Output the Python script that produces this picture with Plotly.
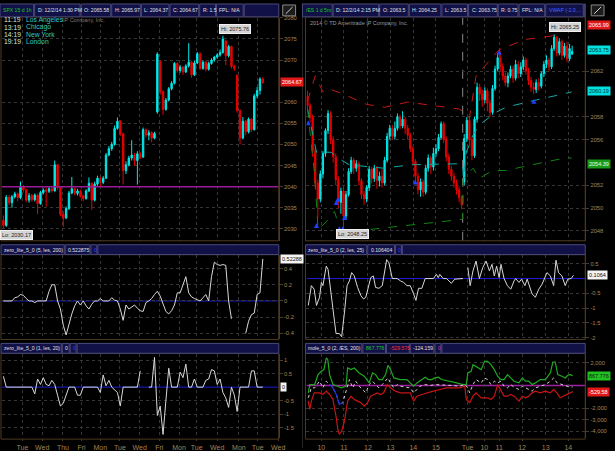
import plotly.graph_objects as go

W, H = 615, 451
def PX(x): return x / W
def PY(y): return 1 - y / H

FS = "Liberation Sans, Arial, sans-serif"
TAN = "#a08458"
BROWN = "#4e3a22"
GRID = "#363636"
CYAN = "#00e8e8"
RED = "#e80000"
NAVY = "#111148"
CELLB = "#4a4a7a"

# ---------------- LEFT: SPX 15 d 1h ----------------
spx_o = [2032.0,2030.8,2037.5,2036.2,2037.6,2038.3,2037.4,2039.9,2039.2,2036.8,2037.9,2036.9,2038.0,2036.0,2038.6,2039.2,2038.9,2039.5,2039.0,2045.2,
         2039.8,2033.5,2032.6,2034.8,2038.5,2039.5,2038.4,2039.0,2037.8,2037.2,2039.0,2040.8,2036.8,2040.6,2042.0,2041.0,2042.0,2047.5,2049.0,2050.0,
         2053.8,2055.5,2052.5,2043.8,2045.2,2046.8,2047.5,2046.2,2047.8,2047.0,2053.5,2052.2,2052.8,2051.5,2057.7,2069.6,2062.5,2058.3,2060.5,2063.2,
         2064.5,2069.2,2067.5,2068.3,2067.2,2068.6,2069.5,2066.5,2069.3,2071.5,2068.0,2069.5,2067.8,2069.2,2070.0,2070.7,2071.2,2071.8,2074.5,2071.0,
         2073.2,2068.5,2066.4,2058.0,2051.5,2055.5,2053.0,2056.0,2053.5,2061.5,2062.8,2065.5]
spx_c = [2030.8,2037.5,2036.2,2037.6,2038.3,2037.4,2039.9,2039.2,2036.8,2037.9,2036.9,2038.0,2036.0,2038.6,2039.2,2038.9,2039.5,2039.0,2045.2,2039.8,
         2033.5,2032.6,2034.8,2038.5,2039.5,2038.4,2039.0,2037.8,2037.2,2039.0,2040.8,2036.8,2040.6,2042.0,2041.0,2042.0,2047.5,2049.0,2050.0,2053.8,
         2055.5,2052.5,2043.8,2045.2,2046.8,2047.5,2046.2,2047.8,2047.0,2053.5,2052.2,2052.8,2051.5,2052.6,2071.4,2062.5,2058.3,2060.5,2063.2,2064.5,
         2069.2,2067.5,2068.3,2067.2,2068.6,2069.5,2066.5,2069.3,2071.5,2068.0,2069.5,2067.8,2069.2,2070.0,2070.7,2071.2,2071.8,2075.0,2071.0,2073.2,
         2068.5,2068.0,2058.0,2051.5,2055.5,2053.0,2056.0,2053.5,2061.5,2062.8,2065.5,2064.67]
spx_h = [2033.2,2038.0,2038.0,2038.0,2038.8,2038.6,2041.2,2040.4,2039.5,2038.5,2038.3,2038.4,2038.3,2039.0,2039.6,2039.8,2040.0,2039.9,2046.2,2045.4,
         2040.0,2034.2,2035.3,2039.0,2042.3,2039.8,2039.5,2039.3,2038.2,2039.4,2042.2,2041.0,2041.2,2042.6,2042.4,2042.5,2048.0,2049.6,2050.6,2054.5,
         2056.4,2055.8,2052.8,2046.0,2047.3,2051.0,2048.0,2048.4,2048.2,2054.0,2053.8,2053.4,2053.1,2053.0,2071.8,2070.0,2062.8,2061.0,2063.6,2065.0,
         2069.5,2069.5,2068.8,2068.6,2069.0,2074.0,2069.8,2069.8,2071.9,2071.8,2069.9,2069.8,2069.6,2070.4,2071.0,2071.6,2072.5,2075.76,2074.8,2073.6,
         2073.4,2068.9,2066.6,2058.3,2056.5,2055.8,2056.4,2056.2,2062.0,2063.6,2065.9,2065.97]
spx_l = [2030.17,2030.5,2035.6,2035.0,2037.2,2036.5,2037.0,2038.6,2036.3,2036.2,2036.4,2036.5,2033.5,2035.7,2038.2,2035.3,2038.5,2038.6,2038.8,2039.3,
         2033.0,2030.5,2032.3,2034.5,2038.2,2038.0,2037.9,2037.4,2036.6,2036.9,2038.7,2034.5,2036.5,2040.2,2040.0,2040.6,2041.8,2047.2,2048.5,2049.7,
         2053.5,2052.0,2040.5,2043.0,2044.8,2046.2,2045.0,2040.5,2046.5,2046.8,2051.6,2051.0,2050.5,2051.2,2057.3,2061.8,2057.0,2058.0,2060.2,2062.8,
         2064.2,2067.0,2067.0,2066.5,2066.9,2068.2,2065.8,2066.2,2069.0,2067.6,2067.7,2067.3,2067.5,2068.9,2069.6,2070.3,2070.8,2071.5,2068.8,2070.6,
         2068.0,2067.4,2057.5,2050.0,2051.2,2052.2,2052.6,2053.0,2053.3,2061.0,2061.8,2064.37]

spx_mid = [0,0,0,0,0.04,0.05,0.08,0.07,0.03,0,0,-0.02,0,0,0,0,0.12,0.2,0.2,0,
           -0.1,-0.3,-0.42,-0.27,-0.16,-0.06,0,-0.05,0,-0.06,-0.1,-0.04,0,0,0.03,0,0,0,0.04,0.01,
           0,-0.1,-0.24,-0.05,-0.1,-0.07,-0.05,-0.09,-0.12,-0.13,-0.02,0,0.03,0.08,0.12,0.06,-0.05,-0.13,-0.16,-0.12,
           -0.05,0.1,0.1,0.2,0.3,0.1,0.05,0.03,0.01,0,0.04,0.08,0,0.3,0.48,0.45,0.44,0.45,0.44,0,
           -0.22,None,None,None,None,-0.4,-0.25,-0.17,-0.15,0.08,0.1,0.52]
spx_low = [0.4,0,0,0,0,0,0,0,0,0,0,-0.25,0.3,0.1,0.35,0.1,0.05,0.25,0.1,-0.3,
           -0.7,-0.6,-0.3,0,0,0,-0.3,-0.3,0,0,0,0,0,0,-0.2,0.45,0.05,0.25,0,-0.1,
           -0.2,-0.7,0,0,0,0,0,0,0.6,None,None,0,0,1.1,-1.05,-0.7,-1.75,-0.5,0.7,0,
           0,0,0.55,0.35,0.85,0,0,0.3,0,0,0,0.25,0.3,0.65,0.6,0.1,0.3,-0.2,-0.4,-0.75,
           0,-0.3,-0.9,0,0,0,0,0.6,0.6,0,0,0]
spx_level = 2040.0
left_tickvals = [6.7,13.6,20.9,27.4,34,40.9,47.8,54.7,61.6,67.8,75,82.6,89.2,96.4]
left_ticktext = ["Tue","Wed","Thu","Fri","Mon","Tue","Wed","Fri","Mon","Tue","Wed","Mon","Tue","Wed"]

# ---------------- RIGHT: /ES 1 d 5m ----------------
es_o = [2059.8,2059.0,2058.0,2055.0,2052.2,2050.8,2053.0,2054.8,2056.8,2058.3,2056.0,2054.5,2052.5,2050.5,2051.5,2049.3,2051.2,2053.2,2054.2,2053.5,
        2053.9,2052.4,2051.2,2050.8,2051.8,2053.4,2052.6,2053.5,2052.4,2052.8,2052.2,2054.2,2056.3,2057.0,2056.3,2057.0,2058.0,2057.2,2057.8,2057.0,
        2056.4,2055.2,2054.1,2052.8,2051.6,2052.3,2051.4,2053.5,2054.4,2053.6,2054.8,2055.2,2056.2,2057.4,2056.0,2054.5,2053.4,2052.8,2052.2,2051.6,
        2050.9,2052.3,2056.1,2057.7,2056.0,2054.6,2057.8,2060.6,2060.0,2059.5,2060.3,2059.2,2058.4,2060.5,2062.2,2063.2,2062.4,2061.6,2061.0,2061.6,
        2062.2,2061.4,2062.6,2061.8,2062.4,2063.0,2062.0,2061.2,2060.6,2060.4,2061.0,2060.7,2061.8,2062.6,2063.0,2062.4,2064.0,2065.0,2063.6,2064.6,
        2063.4,2064.2,2063.1,2063.5]
es_c = [2059.0,2058.0,2055.0,2052.2,2050.8,2053.0,2054.8,2056.8,2058.3,2056.0,2054.5,2052.5,2050.5,2051.5,2049.3,2051.2,2053.2,2054.2,2053.5,2053.9,
        2052.4,2051.2,2050.8,2051.8,2053.4,2052.6,2053.5,2052.4,2052.8,2052.2,2054.2,2056.3,2057.0,2056.3,2057.0,2058.0,2057.2,2057.8,2057.0,2056.4,
        2055.2,2054.1,2052.8,2051.6,2052.3,2051.4,2053.5,2054.4,2053.6,2054.8,2055.2,2056.2,2057.4,2056.0,2054.5,2053.4,2052.8,2052.2,2051.6,2050.9,
        2050.3,2056.1,2057.7,2056.0,2054.6,2057.8,2060.6,2060.0,2059.5,2060.3,2059.2,2058.4,2060.5,2062.2,2063.2,2062.4,2061.6,2061.0,2061.6,2062.2,
        2061.4,2062.6,2061.8,2062.4,2063.0,2062.0,2061.2,2060.6,2060.4,2061.0,2060.7,2061.8,2062.6,2063.0,2062.4,2064.0,2065.0,2063.6,2064.6,2063.4,
        2064.2,2063.1,2064.0,2063.75]
es_h = [2060.3,2059.2,2058.2,2055.3,2052.5,2053.3,2055.0,2057.0,2058.6,2058.5,2056.3,2054.8,2052.8,2051.8,2051.8,2051.5,2053.5,2054.5,2054.4,2054.2,
        2054.1,2052.6,2051.5,2052.0,2053.7,2053.6,2053.8,2053.7,2053.2,2053.4,2054.5,2056.6,2057.3,2057.3,2057.6,2058.3,2058.2,2058.5,2058.0,2057.3,
        2056.6,2055.4,2054.3,2053.1,2052.6,2052.5,2053.8,2054.7,2054.6,2055.3,2055.6,2056.5,2057.6,2057.6,2056.3,2054.8,2053.7,2053.1,2052.5,2051.9,
        2051.1,2056.5,2058.0,2058.0,2056.3,2058.0,2061.0,2060.9,2060.4,2060.6,2060.5,2059.5,2060.8,2062.5,2063.6,2063.8,2062.7,2061.9,2061.9,2062.5,
        2062.5,2063.0,2062.9,2062.8,2063.3,2063.2,2062.3,2061.5,2061.0,2061.3,2061.4,2062.0,2062.9,2063.4,2063.2,2064.3,2065.25,2065.1,2064.9,2064.8,
        2064.5,2064.6,2064.4,2064.25]
es_l = [2058.6,2057.5,2054.5,2051.8,2049.1,2050.5,2052.6,2054.5,2056.5,2055.6,2054.0,2052.0,2050.0,2049.5,2048.25,2049.0,2051.0,2053.0,2053.0,2053.2,
        2052.0,2050.8,2050.3,2050.5,2051.5,2052.2,2052.3,2051.7,2051.9,2051.8,2052.0,2054.0,2056.0,2056.0,2056.0,2056.8,2056.9,2057.0,2056.5,2056.0,
        2054.9,2053.8,2052.4,2051.2,2051.0,2051.0,2051.2,2053.2,2053.0,2053.3,2054.5,2055.0,2056.0,2055.7,2054.1,2053.0,2052.4,2051.8,2051.2,2050.5,
        2049.9,2052.0,2055.8,2055.4,2054.2,2054.4,2057.5,2059.4,2058.9,2059.2,2058.5,2058.0,2058.2,2060.3,2062.0,2062.0,2061.2,2060.7,2060.6,2061.4,
        2061.0,2061.2,2061.4,2061.5,2062.1,2061.7,2060.8,2060.2,2060.0,2060.1,2060.3,2060.5,2061.5,2062.3,2062.0,2062.2,2063.8,2063.3,2063.4,2063.0,
        2063.2,2062.8,2062.9,2063.5]

vwap_up_x = [0,3,6,8,14,23,30,39,49,59,60.5,61.2,63,65.6,74.6,84.8,94.9,99,103]
vwap_up_y = [2059.4,2061.6,2060.2,2060.5,2060.0,2059.1,2058.85,2059.3,2059.0,2058.7,2058.5,2058.3,2057.9,2061.6,2063.9,2064.8,2065.1,2065.6,2065.99]
vwap_x = [0,3.5,9.2,11.8,16.3,29.7,40,59.2,60.4,60.6,61.8,64.4,66.9,73.3,77.2,87.4,96.4,102.8]
vwap_y = [2058.7,2054.9,2054.9,2054.4,2053.8,2053.5,2053.8,2053.9,2053.9,2052.6,2054.9,2056.4,2057.3,2058.4,2058.85,2059.4,2059.9,2060.19]
vwap_dn_x = [0,2.8,4.1,7.3,10.5,13.1,23.3,36.2,49,59.9,60.4,60.6,64.4,66.9,72,77.2,87.4,100.3,102.8]
vwap_dn_y = [2058.7,2052.9,2048.1,2048.8,2049.7,2047.8,2048.1,2048.4,2048.7,2049.0,2049.1,2052.6,2053.5,2052.6,2053.3,2053.3,2053.8,2054.4,2054.39]
sig_x = [0.3,3.5,11.2,11.8,12.4,13.7,14.4,41.9,74.6,88.1]
sig_y = [2057.7,2048.7,2050.7,2051.0,2048.4,2048.4,2049.4,2052.5,2063.9,2059.6]

zl_r_x = [0.3,1.5,2.6,3.5,4.7,5.4,6.0,7.3,8.0,9.2,10.5,11.1,12.4,13.3,14.4,15.4,16.3,17.2,18.2,19.5,20.8,21.8,22.7,24.0,24.6,25.6,26.5,27.8,29.1,30.8,
          31.7,33.0,34.9,36.2,37.4,38.7,40.0,41.3,42.2,43.2,44.5,45.8,49.0,50.2,50.9,51.5,52.8,54.1,56.0,57.3,60.5,61.5,
          62.4,63.3,64.4,65.6,66.9,68.2,69.5,70.8,71.8,72.7,73.6,74.6,75.3,76.5,77.8,79.1,80.4,81.0,82.3,83.3,84.6,85.5,87.4,88.7,90.0,91.3,93.2,94.5,
          95.8,96.7,97.7,99.0,100.3,101.3,102.6,103.5]
zl_r_y = [-0.91,-0.24,-0.36,-0.91,-0.63,-0.13,-0.24,0.42,0.31,-0.47,-1.47,-1.86,-1.86,-1.97,-1.13,-0.24,-0.08,0.2,0.09,-0.3,-0.58,-0.69,-0.63,-0.24,0.03,0.09,-0.3,-0.33,-0.24,0.64,
          0.53,0,0,-0.08,-0.13,-0.24,-0.24,-0.52,-0.74,-0.33,-0.33,0,0,0.14,0.03,0.14,0,0,-0.16,-0.02,0,None,
          0.37,-0.24,0.26,0.59,0,0.37,0.59,0.26,0.48,0.09,0.42,0.03,0.48,0,-0.24,-0.36,-0.08,0,-0.13,-0.02,-0.24,-0.02,-0.52,-0.63,-0.36,-0.19,0.2,0.09,
          -0.24,0.62,0.2,0.09,-0.24,-0.02,0,0.11]

mole_g_x = [0.3,0.9,2.8,4.1,5.4,6.4,7.3,7.9,8.6,9.9,11.8,13.1,15.0,15.6,16.9,18.2,20.1,22.1,24.0,25.3,26.5,27.8,29.1,30.4,31.3,32.3,33.6,36.2,38.7,40.0,
            41.3,42.6,44.5,45.8,47.1,48.3,49.6,50.9,52.2,54.1,56.0,58.0,60.5,61.8,62.4,63.7,64.4,65.6,67.6,68.9,70.1,71.4,72.7,74.0,75.3,76.5,77.8,79.1,80.4,82.3,
            83.6,84.9,86.1,87.4,88.7,90.6,92.6,94.5,95.5,96.4,97.4,99.0,100.3,101.3,102.2,103.2]
mole_g_y = [-638,87,87,957,1246,1391,2406,2261,957,87,-58,-203,-58,1536,1391,1536,1101,812,232,1101,957,522,522,957,1768,1391,667,522,522,232,
            -58,232,522,725,522,522,667,725,522,435,377,232,87,87,1101,1246,1826,1681,1391,2116,2116,1826,1391,812,522,522,957,667,377,232,
            667,377,377,87,232,522,522,1101,2058,2058,957,812,667,899,957,868]
mole_r_x = [0.3,0.9,1.5,2.6,3.5,4.7,6.0,7.3,8.6,9.9,11.2,11.8,12.4,13.3,14.4,15.6,16.9,18.2,19.5,20.8,22.1,23.3,24.6,25.9,27.2,28.5,29.7,31.0,32.3,34.2,
            36.2,38.1,40.0,41.3,42.6,44.5,46.4,49.0,51.5,54.1,56.7,59.2,61.2,61.8,63.1,64.4,65.6,67.6,68.9,70.1,71.4,72.7,74.0,75.3,76.5,77.8,79.1,80.4,81.7,82.3,
            83.6,84.9,86.1,87.4,88.7,90.6,92.6,94.5,95.8,97.1,98.3,99.6,100.9,102.2,103.2]
mole_r_y = [-1362,-2087,-1362,-638,-638,-638,-783,-493,-783,-1217,-2812,-3826,-4261,-3971,-3101,-1362,-928,-1217,-1362,-1507,-1797,-1507,-928,-783,-638,-783,-638,87,-203,-493,
            -638,-638,-638,-1362,-928,-783,-638,-493,-348,-203,-203,-203,-58,-1217,-1507,-928,-638,-1072,-1072,-1072,-1217,-928,87,-493,-928,-928,-783,-928,-1217,-1362,
            -928,-1072,-928,-638,-493,-638,-493,-638,-348,-638,-1072,-928,-783,-638,-530]
mole_w_x = [0.3,1.5,2.8,4.7,6.0,7.3,8.6,9.9,11.2,12.4,13.7,15.0,16.3,17.6,18.8,20.1,21.4,22.7,24.0,25.3,26.5,27.8,29.1,30.4,31.3,32.3,33.6,34.9,36.2,38.1,
            40.0,41.3,42.6,43.8,45.8,47.7,49.6,51.5,54.1,56.7,59.2,61.2,62.4,63.1,64.4,65.6,67.6,68.9,70.1,71.4,72.7,74.0,75.3,76.5,77.8,79.1,80.4,82.3,83.6,84.9,
            86.1,87.4,88.7,90.6,92.6,94.5,95.8,97.1,99.0,100.9,102.2,103.2]
mole_w_y = [-1072,-203,-203,377,-203,377,87,-203,-783,-1652,-1507,-493,522,-203,377,-58,-348,-638,87,377,87,-203,87,377,667,232,-203,87,-58,-145,
            -203,-638,-348,-58,87,0,87,87,29,0,-58,87,-203,-638,87,522,232,667,522,87,377,232,377,-58,-203,87,-145,-348,-58,-203,
            -348,-493,-203,-58,87,377,667,232,87,-58,-145,-124]
mole_b_x = [8.6,9.9,11.2,12.4,13.7]
mole_b_y = [87,-203,-783,-1652,-1507]
right_tickvals = [5.4,14.2,23.5,32.3,41.2,50,62.3,68.8,74.6,83.5,92.7,101.5]
right_ticktext = ["10","11","12","13","14","15","Tue","10","11","12","13","14"]
session_break = 60.4

# ---------------- figure ----------------
fig = go.Figure()
cs = dict(increasing=dict(line=dict(color=CYAN, width=1), fillcolor=CYAN),
          decreasing=dict(line=dict(color=RED, width=1), fillcolor=RED),
          whiskerwidth=0, showlegend=False, hoverinfo="skip")
fig.add_trace(go.Candlestick(x=list(range(len(spx_c))), open=spx_o, high=spx_h, low=spx_l, close=spx_c,
                             xaxis="x", yaxis="y", **cs))
fig.add_trace(go.Candlestick(x=list(range(len(es_c))), open=es_o, high=es_h, low=es_l, close=es_c,
                             xaxis="x2", yaxis="y2", **cs))
fig.add_trace(go.Scatter(x=vwap_up_x, y=vwap_up_y, mode="lines", line=dict(color="#c41818", width=1, dash="dash"),
                         xaxis="x2", yaxis="y2", showlegend=False, hoverinfo="skip"))
fig.add_trace(go.Scatter(x=vwap_x, y=vwap_y, mode="lines", line=dict(color="#12a8a8", width=1, dash="dash"),
                         xaxis="x2", yaxis="y2", showlegend=False, hoverinfo="skip"))
fig.add_trace(go.Scatter(x=vwap_dn_x, y=vwap_dn_y, mode="lines", line=dict(color="#128212", width=1, dash="dash"),
                         xaxis="x2", yaxis="y2", showlegend=False, hoverinfo="skip"))
fig.add_trace(go.Scatter(x=sig_x, y=sig_y, mode="markers", marker=dict(symbol="arrow-up", size=5, color="#2040ff"),
                         xaxis="x2", yaxis="y2", showlegend=False, hoverinfo="skip"))

fig.add_trace(go.Scatter(x=list(range(len(spx_mid))), y=spx_mid, mode="lines", line=dict(color="#d8d8d8", width=1),
                         xaxis="x3", yaxis="y3", showlegend=False, hoverinfo="skip"))
fig.add_trace(go.Scatter(x=list(range(len(spx_low))), y=spx_low, mode="lines", line=dict(color="#d8d8d8", width=1),
                         xaxis="x5", yaxis="y5", showlegend=False, hoverinfo="skip"))
fig.add_trace(go.Scatter(x=zl_r_x, y=zl_r_y, mode="lines", line=dict(color="#d8d8d8", width=1),
                         xaxis="x4", yaxis="y4", showlegend=False, hoverinfo="skip"))
fig.add_trace(go.Scatter(x=mole_g_x, y=mole_g_y, mode="lines", line=dict(color="#1fa81f", width=1.2),
                         xaxis="x6", yaxis="y6", showlegend=False, hoverinfo="skip"))
fig.add_trace(go.Scatter(x=mole_r_x, y=mole_r_y, mode="lines", line=dict(color="#c81414", width=1.2),
                         xaxis="x6", yaxis="y6", showlegend=False, hoverinfo="skip"))
fig.add_trace(go.Scatter(x=mole_w_x, y=mole_w_y, mode="lines", line=dict(color="#d0d0d0", width=1, dash="dot"),
                         xaxis="x6", yaxis="y6", showlegend=False, hoverinfo="skip"))
fig.add_trace(go.Scatter(x=mole_b_x, y=mole_b_y, mode="lines", line=dict(color="#2030e0", width=1.2),
                         xaxis="x6", yaxis="y6", showlegend=False, hoverinfo="skip"))

# ---------------- axes ----------------
LX = [PX(2), PX(282)]
RX = [PX(310), PX(592)]
TOP = [PY(241), PY(15)]
MID = [PY(341), PY(255)]
BOT = [PY(441), PY(356)]

def xax(domain, anchor, rng, tv, tt, labels):
    return dict(domain=domain, anchor=anchor, range=rng, tickvals=tv, ticktext=tt,
                showticklabels=labels, showgrid=True, gridcolor=GRID, griddash="dot", gridwidth=1,
                zeroline=False, showline=False, ticks="outside" if labels else "", ticklen=2, tickcolor=BROWN,
                tickfont=dict(family=FS, size=7, color=TAN), rangeslider=dict(visible=False), fixedrange=True)

def yax(domain, anchor, rng, tv, tt=None):
    d = dict(domain=domain, anchor=anchor, range=rng, side="right", tickvals=tv,
             showgrid=True, gridcolor=GRID, griddash="dot", gridwidth=1, zeroline=False,
             showline=True, linecolor=BROWN, linewidth=1, ticks="outside", ticklen=3, tickcolor=BROWN,
             tickfont=dict(family=FS, size=5.8, color=TAN), fixedrange=True)
    if tt is not None:
        d["ticktext"] = tt
    return d

lr = [-0.5, 96.6]
rr = [-0.4, 108.1]
fig.update_layout(
    xaxis=xax(LX, "y", lr, left_tickvals, left_ticktext, False),
    xaxis3=xax(LX, "y3", lr, left_tickvals, left_ticktext, False),
    xaxis5=xax(LX, "y5", lr, left_tickvals, left_ticktext, True),
    xaxis2=xax(RX, "y2", rr, right_tickvals, right_ticktext, False),
    xaxis4=xax(RX, "y4", rr, right_tickvals, right_ticktext, False),
    xaxis6=xax(RX, "y6", rr, right_tickvals, right_ticktext, True),
    yaxis=yax(TOP, "x", [2027.18, 2080.0], [2030, 2035, 2040, 2045, 2050, 2055, 2060, 2070, 2075, 2080]),
    yaxis3=yax(MID, "x3", [-0.476, 0.573], [-0.4, -0.2, 0, 0.2, 0.4], ["-0.4", "-0.2", "0", "0.2", "0.4"]),
    yaxis5=yax(BOT, "x5", [-1.887, 1.215], [-1.5, -1, -0.5, 0.5, 1], ["-1.5", "-1", "-0.5", "0.5", "1"]),
    yaxis2=yax(TOP, "x2", [2047.13, 2066.70], [2048, 2050, 2052, 2056, 2058, 2062]),
    yaxis4=yax(MID, "x4", [-2.06, 0.81], [-2, -1.5, -1, -0.5, 0.5], ["-2", "-1.5", "-1", "-0.5", "0.5"]),
    yaxis6=yax(BOT, "x6", [-4595, 2733], [-4000, -3000, -2000, 2000], ["-4,000", "-3,000", "-2,000", "2,000"]),
)

shapes = []
annots = []

def rect(x0, y0, x1, y1, fill=None, line=None, lw=1):
    shapes.append(dict(type="rect", xref="paper", yref="paper", x0=PX(x0), x1=PX(x1), y0=PY(y1), y1=PY(y0),
                       fillcolor=fill if fill else "rgba(0,0,0,0)",
                       line=dict(color=line if line else "rgba(0,0,0,0)", width=lw), layer="above"))

def txt(x, y, s, color="#e8e8e8", size=5.5, family=FS, xanchor="left", bg=None, border=None, pad=1):
    a = dict(xref="paper", yref="paper", x=PX(x), y=PY(y), text=s, showarrow=False, xanchor=xanchor,
             yanchor="middle", font=dict(family=family, size=size, color=color), borderpad=pad)
    if bg:
        a["bgcolor"] = bg
    if border:
        a["bordercolor"] = border
        a["borderwidth"] = 1
    annots.append(a)

shapes.append(dict(type="line", xref="x", yref="y", x0=lr[0], x1=lr[1], y0=spx_level, y1=spx_level,
                   line=dict(color="#9a1a9a", width=1.5), layer="above"))
for xr, yr, r in (("x3", "y3", lr), ("x5", "y5", lr), ("x4", "y4", rr)):
    shapes.append(dict(type="line", xref=xr, yref=yr, x0=r[0], x1=r[1], y0=0, y1=0,
                       line=dict(color="#1c1cd8", width=1), layer="below"))
shapes.append(dict(type="line", xref="x6", yref="y6", x0=rr[0], x1=rr[1], y0=0, y1=0,
                   line=dict(color="#a020a0", width=1.5), layer="below"))
shapes.append(dict(type="line", xref="x2", yref="y2", x0=session_break, x1=session_break, y0=2047.13, y1=2066.7,
                   line=dict(color="#8a8a8a", width=1, dash="dash"), layer="below"))

for (x0, x1) in ((1, 282), (309, 592)):
    for (y0, y1) in ((14, 241), (255, 341), (355, 442)):
        rect(x0, y0, x1, y1, line=BROWN)
shapes.append(dict(type="line", xref="paper", yref="paper", x0=PX(306), x1=PX(306), y0=0, y1=1,
                   line=dict(color="#262626", width=1)))

def header(y0, y1, cells, x_end):
    for (x0, x1, s, col) in cells:
        rect(x0, y0, x1, y1, fill=NAVY, line=CELLB)
        if s:
            txt(x0 + 1, (y0 + y1) / 2, s, color=col, size=5.1)
    last = cells[-1][1]
    rect(last + 1, y0, x_end, y1, fill=NAVY, line=CELLB)

W8 = "#e0e0e0"
header(1, 14, [(0, 34, "SPX 15 d 1h", "#18c818"), (35, 81, "D: 12/2/14 1:30 PM", W8), (82, 112, "O: 2065.58", W8),
               (113, 142, "H: 2065.97", W8), (143, 171, "L: 2064.37", W8), (172, 201, "C: 2064.67", W8),
               (202, 218, "R: 1.5", W8), (219, 246, "FPL: N/A", W8)], 282)
header(1, 14, [(306, 336, "/ES 1 d 5m", "#18c818"), (337, 383, "D: 12/2/14 2:15 PM", W8), (384, 413, "O: 2063.5", W8),
               (414, 446, "H: 2064.25", W8), (447, 473, "L: 2063.5", W8), (474, 503, "C: 2063.75", W8),
               (504, 524, "R: 0.75", W8), (525, 551, "FPL: N/A", W8), (552, 590, "VWAP (-2.0,...", "#4a6aff")], 592)
header(245, 255, [(1, 65, "zero_lite_5_0 (5, les, 200)", W8), (66, 91, "0.522875", W8), (92, 98, "0", "#3a3aff")], 282)
header(345, 355, [(1, 62, "zero_lite_5_0 (1, les, 20)", W8), (63, 70, "0", W8), (71, 77, "0", "#3a3aff")], 282)
header(245, 255, [(309, 371, "zero_lite_5_0 (2, les, 25)", W8), (372, 399, "0.106404", W8), (400, 406, "0", "#3a3aff")], 592)
header(345, 355, [(309, 366, "mole_5_0 (2, /ES, 200)", W8), (367, 390, "867.776", "#22d022"), (391, 414, "-529.576", "#ff3030"),
                  (415, 439, "-124.159", W8), (440, 446, "0", "#c040c0")], 592)

for x0 in (286, 598):
    rect(x0, 2, x0 + 13, 13, fill="#1c1c1c", line="#8a8a8a")
    shapes.append(dict(type="line", xref="paper", yref="paper", x0=PX(x0 + 3), x1=PX(x0 + 10), y0=PY(11), y1=PY(4),
                       line=dict(color="#d0d0d0", width=1)))

txt(62, 17, "IP Company, Inc.", color="#7a7a7a", size=5.5)
for y, t, c in ((17, "11:19", "Los Angeles"), (24.5, "13:19", "Chicago"), (32, "14:19", "New York"), (39.5, "19:19", "London")):
    txt(2, y, t, color="#c8e8d8", size=6.8)
    txt(24, y, c, color="#30c8c8", size=6.8)
txt(312, 20, "2014 \u00a9 TD Ameritrade IP Company, Inc.", color="#9a9a9a", size=5.5)

bub = dict(color="#202020", size=5.5, bg="#d4d4d4", border="#f0f0f0")
txt(238, 26, "Hi: 2075.76", xanchor="center", **bub)
txt(17, 235, "Lo: 2030.17", xanchor="center", **bub)
txt(571, 24, "Hi: 2065.25", xanchor="center", **bub)
txt(357, 234, "Lo: 2048.25", xanchor="center", **bub)

txt(283, 80, "2064.67", color="#ffffff", bg="#e01818")
txt(594, 22, "2065.99", color="#ffffff", bg="#e01818")
txt(594, 48, "2063.75", color="#003030", bg="#00e0e0")
txt(594, 89, "2060.19", color="#003030", bg="#00e0e0")
txt(594, 163, "2054.39", color="#e8ffe8", bg="#1a9a1a")
txt(283, 259, "0.52288", color="#101010", bg="#f4f4f4")
txt(283, 389, "0", color="#101010", bg="#f4f4f4")
txt(594, 276, "0.1064", color="#101010", bg="#f4f4f4")
txt(594, 378, "867.776", color="#102010", bg="#22c022")
txt(594, 394, "-529.58", color="#ffffff", bg="#e01818")

fig.update_layout(
    width=W, height=H, autosize=False,
    margin=dict(l=0, r=0, t=0, b=0, pad=0),
    paper_bgcolor="#000000", plot_bgcolor="#000000",
    shapes=shapes, annotations=annots, showlegend=False, dragmode=False,
)

fig.write_html("out.html", config={"displayModeBar": False},
               post_script="document.body.style.margin='0';document.body.style.background='#000';")
